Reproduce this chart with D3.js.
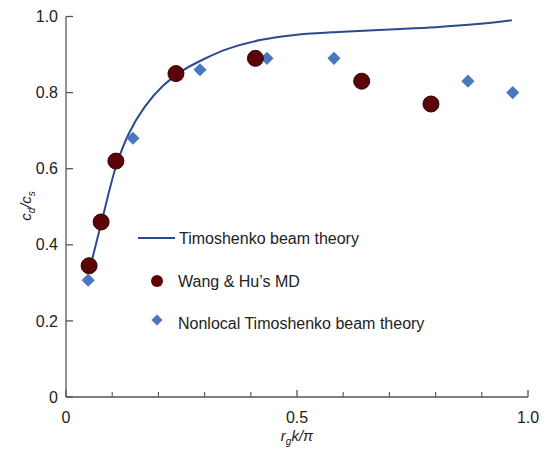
<!DOCTYPE html>
<html>
<head>
<meta charset="utf-8">
<style>
  body { margin: 0; background: #fff; }
  svg text { font-family: "Liberation Sans", Arial, sans-serif; fill: #222; }
</style>
</head>
<body>
<svg width="542" height="449"></svg>
<script src="https://d3js.org/d3.v7.min.js"></script>
<script>

// Timoshenko beam theory curve
var theoryX = [0.05, 0.076, 0.108, 0.135, 0.17, 0.21, 0.25, 0.3, 0.35, 0.42, 0.5, 0.6, 0.7, 0.8, 0.89, 0.965];
var theoryY = [0.33, 0.455, 0.605, 0.69, 0.762, 0.818, 0.856, 0.889, 0.915, 0.938, 0.952, 0.96, 0.966, 0.972, 0.98, 0.99];

// Wang & Hu's MD
var mdX = [0.05, 0.076, 0.108, 0.238, 0.41, 0.64, 0.79];
var mdY = [0.345, 0.46, 0.62, 0.85, 0.89, 0.83, 0.77];

// Nonlocal Timoshenko beam theory
var nlX = [0.048, 0.145, 0.29, 0.435, 0.58, 0.87, 0.967];
var nlY = [0.307, 0.68, 0.86, 0.89, 0.89, 0.83, 0.80];

var xTicks = [0, 0.5, 1.0];
var xTickLabels = ["0", "0.5", "1.0"];
var xMinorTicks = [0.1, 0.2, 0.3, 0.4, 0.6, 0.7, 0.8, 0.9];
var yTicks = [0, 0.2, 0.4, 0.6, 0.8, 1.0];
var yTickLabels = ["0", "0.2", "0.4", "0.6", "0.8", "1.0"];

var svg = d3.select("svg"),
    margin = {top: 16.5, right: 14, bottom: 52, left: 66},
    width = 528 - margin.left,
    height = 397 - margin.top,
    g = svg.append("g").attr("transform", "translate(" + margin.left + "," + margin.top + ")");

var x = d3.scaleLinear().domain([0, 1]).range([0, width]);
var y = d3.scaleLinear().domain([0, 1]).range([height, 0]);

var axisColor = "#555";

// x axis (ticks point inward / up)
var xAxis = g.append("g").attr("transform", "translate(0," + height + ")");
xAxis.append("line").attr("x1", 0).attr("x2", width).attr("stroke", axisColor).attr("stroke-width", 1.3);
xAxis.selectAll(".major").data(xTicks).enter().append("line")
    .attr("x1", d => x(d)).attr("x2", d => x(d))
    .attr("y1", 0).attr("y2", -7)
    .attr("stroke", axisColor).attr("stroke-width", 1.3);
xAxis.selectAll(".minor").data(xMinorTicks).enter().append("line")
    .attr("x1", d => x(d)).attr("x2", d => x(d))
    .attr("y1", 0).attr("y2", -5)
    .attr("stroke", axisColor).attr("stroke-width", 1.1);
xAxis.selectAll("text").data(xTicks).enter().append("text")
    .attr("x", d => x(d)).attr("y", 26)
    .attr("text-anchor", "middle")
    .style("font-size", "16px")
    .text((d, i) => xTickLabels[i]);

// y axis (ticks point inward / right)
var yAxis = g.append("g");
yAxis.append("line").attr("y1", 0).attr("y2", height).attr("stroke", axisColor).attr("stroke-width", 1.3);
yAxis.selectAll(".tick").data(yTicks).enter().append("line")
    .attr("x1", 0).attr("x2", 7)
    .attr("y1", d => y(d)).attr("y2", d => y(d))
    .attr("stroke", axisColor).attr("stroke-width", 1.3);
yAxis.selectAll("text").data(yTicks).enter().append("text")
    .attr("x", -8).attr("y", d => y(d)).attr("dy", "0.35em")
    .attr("text-anchor", "end")
    .style("font-size", "16px")
    .text((d, i) => yTickLabels[i]);

// axis titles
var xt = svg.append("text")
    .attr("x", 297).attr("y", 441)
    .attr("text-anchor", "middle")
    .style("font-size", "15px").style("font-style", "italic");
xt.append("tspan").text("r");
xt.append("tspan").attr("dy", 4).style("font-size", "10px").text("g");
xt.append("tspan").attr("dy", -4).text("k/\u03c0");

var yt = svg.append("text")
    .attr("transform", "translate(31,206) rotate(-90)")
    .attr("text-anchor", "middle")
    .style("font-size", "15px").style("font-style", "italic");
yt.append("tspan").text("c");
yt.append("tspan").attr("dy", 4).style("font-size", "10px").text("d");
yt.append("tspan").attr("dy", -4).text("/c");
yt.append("tspan").attr("dy", 4).style("font-size", "10px").text("s");

// theory curve
var line = d3.line()
    .x(d => x(d[0]))
    .y(d => y(d[1]))
    .curve(d3.curveCatmullRom.alpha(0.5));
g.append("path")
    .datum(theoryX.map((v, i) => [v, theoryY[i]]))
    .attr("fill", "none")
    .attr("stroke", "#2b4b8c")
    .attr("stroke-width", 2)
    .attr("d", line);

// nonlocal diamonds
var diamond = d3.symbol().type(d3.symbolDiamond2).size(110);
g.selectAll(".nl").data(nlX).enter().append("path")
    .attr("transform", (d, i) => "translate(" + x(d) + "," + y(nlY[i]) + ")")
    .attr("d", diamond)
    .attr("fill", "#4a78c0");

// MD circles
g.selectAll(".md").data(mdX).enter().append("circle")
    .attr("cx", d => x(d))
    .attr("cy", (d, i) => y(mdY[i]))
    .attr("r", 8)
    .attr("fill", "#5c0508")
    .attr("stroke", "#3a0003")
    .attr("stroke-width", 1);

// legend
var leg = svg.append("g");
leg.append("line").attr("x1", 138).attr("x2", 175).attr("y1", 238).attr("y2", 238)
    .attr("stroke", "#2b4b8c").attr("stroke-width", 2);
leg.append("text").attr("x", 179).attr("y", 238).attr("dy", "0.35em")
    .style("font-size", "16px").text("Timoshenko beam theory");
leg.append("circle").attr("cx", 157).attr("cy", 281).attr("r", 6)
    .attr("fill", "#5c0508");
leg.append("text").attr("x", 178).attr("y", 281).attr("dy", "0.35em")
    .style("font-size", "16px").text("Wang & Hu\u2019s MD");
leg.append("path").attr("transform", "translate(157,320)")
    .attr("d", d3.symbol().type(d3.symbolDiamond2).size(80))
    .attr("fill", "#4a78c0");
leg.append("text").attr("x", 178).attr("y", 323).attr("dy", "0.35em")
    .style("font-size", "16px").text("Nonlocal Timoshenko beam theory");

</script>
</body>
</html>
